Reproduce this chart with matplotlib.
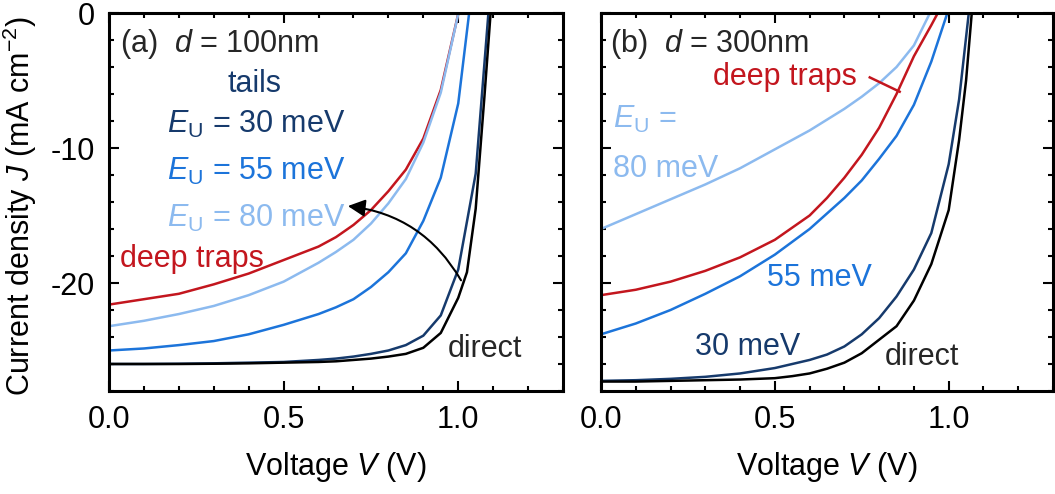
import matplotlib
matplotlib.use("Agg")
import matplotlib.pyplot as plt
from matplotlib.ticker import MultipleLocator

plt.rcParams['font.family'] = ['Liberation Sans', 'DejaVu Sans']
plt.rcParams['mathtext.fontset'] = 'custom'
plt.rcParams['mathtext.rm'] = 'Liberation Sans'
plt.rcParams['mathtext.it'] = 'Liberation Sans:italic'
plt.rcParams['mathtext.bf'] = 'Liberation Sans:bold'
plt.rcParams['axes.unicode_minus'] = False

# ---- J-V data, panel (a): d = 100 nm ----
v_a_direct = [0.0, 0.1, 0.2, 0.3, 0.4, 0.5, 0.6, 0.65, 0.7, 0.75, 0.8, 0.85, 0.9, 0.95, 1.0, 1.025, 1.05, 1.075, 1.095]
j_a_direct = [-26.0, -26.0, -26.0, -25.98, -25.95, -25.9, -25.85, -25.8, -25.7, -25.6, -25.45, -25.25, -24.8, -23.7, -21.1, -19.2, -14.5, -6.2, 0.8]

v_a_30 = [0.0, 0.1, 0.2, 0.3, 0.4, 0.5, 0.6, 0.65, 0.7, 0.75, 0.8, 0.85, 0.9, 0.95, 1.0, 1.05, 1.088]
j_a_30 = [-26.0, -26.0, -25.98, -25.95, -25.9, -25.85, -25.7, -25.6, -25.45, -25.25, -25.0, -24.6, -23.9, -22.4, -19.0, -11.9, 0.5]

v_a_55 = [0.0, 0.1, 0.2, 0.3, 0.4, 0.5, 0.6, 0.65, 0.7, 0.75, 0.8, 0.85, 0.9, 0.95, 1.0, 1.035]
j_a_55 = [-25.0, -24.85, -24.6, -24.3, -23.8, -23.1, -22.3, -21.8, -21.2, -20.3, -19.2, -17.8, -15.4, -12.2, -6.7, 0.8]

v_a_80 = [0.0, 0.1, 0.2, 0.3, 0.4, 0.5, 0.6, 0.65, 0.7, 0.75, 0.8, 0.85, 0.9, 0.95, 1.005]
j_a_80 = [-23.2, -22.8, -22.3, -21.7, -20.9, -19.9, -18.5, -17.7, -16.8, -15.6, -14.1, -12.3, -9.6, -5.9, 0.5]

v_a_deep = [0.0, 0.1, 0.2, 0.3, 0.4, 0.5, 0.6, 0.65, 0.7, 0.75, 0.8, 0.85, 0.9, 0.95, 1.005]
j_a_deep = [-21.6, -21.2, -20.8, -20.1, -19.3, -18.3, -17.3, -16.6, -15.7, -14.6, -13.2, -11.6, -9.3, -5.7, 0.5]

# ---- J-V data, panel (b): d = 300 nm ----
v_b_direct = [0.0, 0.1, 0.2, 0.3, 0.4, 0.5, 0.55, 0.6, 0.65, 0.7, 0.75, 0.8, 0.85, 0.9, 0.95, 1.0, 1.03, 1.05, 1.068]
j_b_direct = [-27.3, -27.3, -27.25, -27.2, -27.15, -27.05, -26.9, -26.7, -26.35, -25.9, -25.2, -24.2, -23.2, -21.3, -18.6, -14.6, -9.4, -5.0, 0.5]

v_b_30 = [0.0, 0.1, 0.2, 0.3, 0.4, 0.5, 0.55, 0.6, 0.65, 0.7, 0.75, 0.8, 0.85, 0.9, 0.95, 1.0, 1.03, 1.06]
j_b_30 = [-27.25, -27.2, -27.1, -26.95, -26.7, -26.3, -26.0, -25.7, -25.3, -24.7, -23.8, -22.6, -21.0, -19.0, -16.3, -11.2, -6.4, 0.5]

v_b_55 = [0.0, 0.1, 0.2, 0.3, 0.4, 0.5, 0.6, 0.7, 0.75, 0.8, 0.85, 0.9, 0.95, 1.0]
j_b_55 = [-23.8, -23.0, -22.0, -20.8, -19.5, -17.9, -16.0, -13.7, -12.4, -10.8, -9.1, -6.8, -3.6, 0.3]

v_b_80 = [0.0, 0.1, 0.2, 0.3, 0.4, 0.5, 0.6, 0.7, 0.75, 0.8, 0.85, 0.9, 0.95]
j_b_80 = [-16.0, -14.9, -13.8, -12.7, -11.5, -10.1, -8.7, -7.1, -6.2, -5.2, -4.0, -2.4, 0.2]

v_b_deep = [0.0, 0.1, 0.2, 0.3, 0.4, 0.5, 0.6, 0.65, 0.7, 0.75, 0.8, 0.85, 0.9, 0.95, 0.975]
j_b_deep = [-20.9, -20.5, -19.9, -19.1, -18.1, -16.8, -15.0, -13.7, -12.2, -10.5, -8.5, -6.0, -3.2, -0.9, 0.3]

x_ticks = [0.0, 0.5, 1.0]
x_tick_labels = ['0.0', '0.5', '1.0']
y_ticks = [0, -10, -20]
y_tick_labels = ['0', '-10', '-20']

C_DIRECT = '#000000'
C_30 = '#163a6c'
C_55 = '#1c74da'
C_80 = '#8cbaef'
C_DEEP = '#c3161e'
C_TEXT = '#262626'
FS = 22
LW = 1.8

fig = plt.figure(figsize=(10.55, 4.94), dpi=100)
ax_a = fig.add_axes([109 / 1055, 1 - 391 / 494, 454 / 1055, 378 / 494])
ax_b = fig.add_axes([601 / 1055, 1 - 391 / 494, 452 / 1055, 378 / 494])

for ax in (ax_a, ax_b):
    ax.set_xlim(0, 1.3)
    ax.set_ylim(-28, 0)
    ax.set_xticks(x_ticks)
    ax.set_xticklabels(x_tick_labels)
    ax.xaxis.set_minor_locator(MultipleLocator(0.1))
    ax.set_yticks(y_ticks)
    ax.yaxis.set_minor_locator(MultipleLocator(2))
    ax.tick_params(which='both', direction='in', top=True, right=True,
                   width=1.5, labelsize=FS, colors='black')
    ax.tick_params(which='major', length=7.5, pad=10)
    ax.tick_params(which='minor', length=3.8)
    for s in ax.spines.values():
        s.set_linewidth(2.2)
    ax.set_xlabel(r'Voltage $V$ (V)', fontsize=FS)
    ax.xaxis.set_label_coords(0.5, -0.155)

ax_a.set_yticklabels(y_tick_labels)
ax_b.set_yticklabels([])
ax_a.set_ylabel(r'Current density $J$ (mA cm$^{\mathrm{-2}}$)', fontsize=FS)
ax_a.yaxis.set_label_coords(-0.155, 0.49)

# panel (a) curves
ax_a.plot(v_a_deep, j_a_deep, color=C_DEEP, lw=LW)
ax_a.plot(v_a_80, j_a_80, color=C_80, lw=LW)
ax_a.plot(v_a_55, j_a_55, color=C_55, lw=LW)
ax_a.plot(v_a_30, j_a_30, color=C_30, lw=LW)
ax_a.plot(v_a_direct, j_a_direct, color=C_DIRECT, lw=LW)

# panel (b) curves
ax_b.plot(v_b_80, j_b_80, color=C_80, lw=LW)
ax_b.plot(v_b_deep, j_b_deep, color=C_DEEP, lw=LW)
ax_b.plot(v_b_55, j_b_55, color=C_55, lw=LW)
ax_b.plot(v_b_30, j_b_30, color=C_30, lw=LW)
ax_b.plot(v_b_direct, j_b_direct, color=C_DIRECT, lw=LW)

# panel (a) annotations
ax_a.text(0.031, -2.87, r'(a)  $d$ = 100nm', fontsize=FS, color=C_TEXT, va='baseline')
ax_a.text(0.417, -5.83, 'tails', fontsize=FS, color=C_30, ha='center', va='baseline')
ax_a.text(0.165, -8.86, r'$E_\mathrm{U}$ = 30 meV', fontsize=FS, color=C_30, va='baseline')
ax_a.text(0.165, -12.37, r'$E_\mathrm{U}$ = 55 meV', fontsize=FS, color=C_55, va='baseline')
ax_a.text(0.165, -15.83, r'$E_\mathrm{U}$ = 80 meV', fontsize=FS, color=C_80, va='baseline')
ax_a.text(0.031, -18.79, 'deep traps', fontsize=FS, color=C_DEEP, va='baseline')
ax_a.text(0.969, -25.45, 'direct', fontsize=FS, color=C_TEXT, va='baseline')
ax_a.annotate('', xy=(0.684, -14.3), xytext=(1.008, -19.8),
              arrowprops=dict(arrowstyle='-|>', connectionstyle='arc3,rad=0.25',
                              color='black', lw=1.5, mutation_scale=26,
                              shrinkA=0, shrinkB=0))

# panel (b) annotations
ax_b.text(0.026, -2.87, r'(b)  $d$ = 300nm', fontsize=FS, color=C_TEXT, va='baseline')
ax_b.text(0.323, -5.33, 'deep traps', fontsize=FS, color=C_DEEP, va='baseline')
ax_b.plot([0.773, 0.859], [-4.77, -5.83], color=C_DEEP, lw=LW)
ax_b.text(0.035, -8.54, r'$E_\mathrm{U}$ =', fontsize=FS, color=C_80, va='baseline')
ax_b.text(0.035, -12.12, '80 meV', fontsize=FS, color=C_80, va='baseline')
ax_b.text(0.476, -20.2, '55 meV', fontsize=FS, color=C_55, va='baseline')
ax_b.text(0.270, -25.3, '30 meV', fontsize=FS, color=C_30, va='baseline')
ax_b.text(0.816, -26.07, 'direct', fontsize=FS, color=C_TEXT, va='baseline')

fig.savefig('out.png', dpi=100)
